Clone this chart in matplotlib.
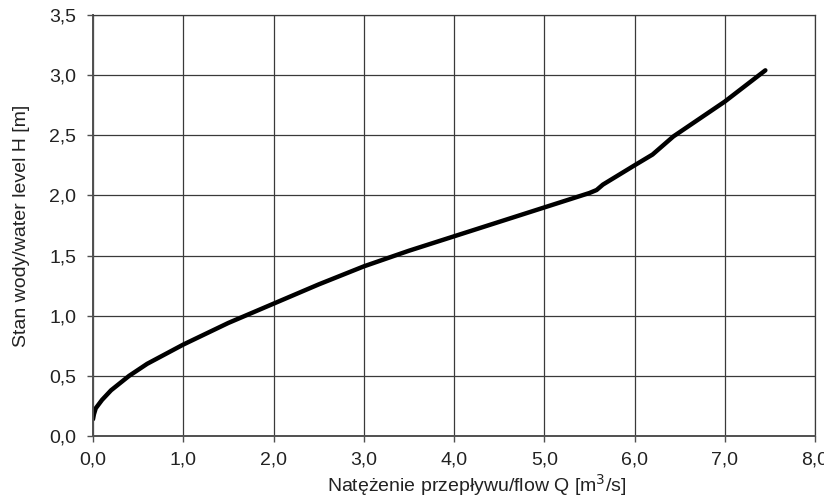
import matplotlib
matplotlib.use("Agg")
import matplotlib.pyplot as plt
from matplotlib.ticker import FuncFormatter

# rating curve
flow_q = [0.0, 0.01, 0.03, 0.1, 0.2, 0.4, 0.6, 1.0, 1.5, 2.0, 2.5, 3.0, 3.5,
          4.0, 4.5, 5.0, 5.5, 5.58, 5.65, 6.0, 6.2, 6.43, 7.0, 7.45]
level_h = [0.14, 0.18, 0.23, 0.30, 0.38, 0.50, 0.60, 0.76, 0.94, 1.10, 1.26,
           1.41, 1.54, 1.66, 1.78, 1.90, 2.02, 2.045, 2.09, 2.25, 2.34, 2.49,
           2.78, 3.04]

x_ticks = [0, 1, 2, 3, 4, 5, 6, 7, 8]
y_ticks = [0, 0.5, 1.0, 1.5, 2.0, 2.5, 3.0, 3.5]

plt.rcParams['font.family'] = ['Liberation Sans', 'DejaVu Sans']

fig = plt.figure(figsize=(8.24, 4.99), dpi=100)
ax = fig.add_axes([93 / 824, 63 / 499, 722 / 824, 421 / 499])

ax.plot(flow_q, level_h, color='black', lw=3.2, solid_capstyle='round')

ax.set_xlim(0, 8)
ax.set_ylim(0, 3.5)
ax.set_xticks(x_ticks)
ax.set_yticks(y_ticks)

comma = FuncFormatter(lambda v, p: f"{v:.1f}".replace('.', ','))
ax.xaxis.set_major_formatter(comma)
ax.yaxis.set_major_formatter(comma)

ax.grid(True, color='#3a3a3a', lw=0.9)
ax.set_axisbelow(True)
for side in ['top', 'right']:
    ax.spines[side].set_color('#3a3a3a')
    ax.spines[side].set_linewidth(0.9)
for side in ['left', 'bottom']:
    ax.spines[side].set_color('#505050')
    ax.spines[side].set_linewidth(1.4)

ax.tick_params(axis='y', direction='out', length=4, width=1, color='#505050',
               labelsize=14, pad=8, labelcolor='#222222')
ax.tick_params(axis='x', direction='out', length=4, width=1, color='#505050',
               labelsize=14, pad=7.5, labelcolor='#222222')

# the x title sits a bit right of the axes centre in the original
ax.set_xlabel('Natężenie przepływu/flow Q [m$^3$/s]', fontsize=14,
              color='#222222')
ax.xaxis.set_label_coords(0.532, -0.086)
ax.xaxis.label.set_va('top')
ax.set_ylabel('Stan wody/water level H [m]', fontsize=14,
              color='#222222', labelpad=14)

fig.savefig('out.png', dpi=100)
